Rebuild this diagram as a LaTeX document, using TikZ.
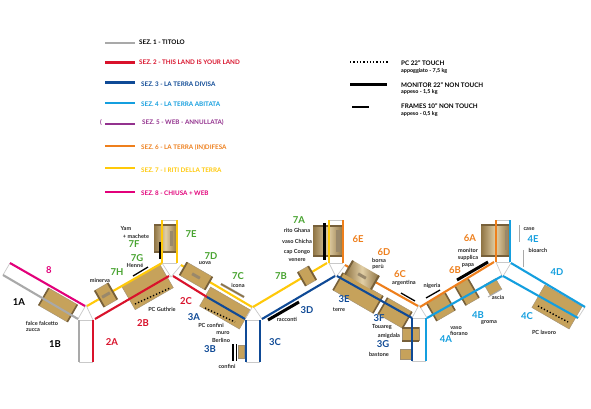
\documentclass[tikz,border=0pt]{standalone}
\usepackage{fontspec}
\setmainfont{Lato}
\definecolor{secgray}{HTML}{A9A9A9}
\definecolor{secred}{HTML}{D9122B}
\definecolor{secblue}{HTML}{0F4A96}
\definecolor{seccyan}{HTML}{149FDF}
\definecolor{secpurple}{HTML}{93328E}
\definecolor{secorange}{HTML}{EE7F1C}
\definecolor{secyellow}{HTML}{FFC909}
\definecolor{secpink}{HTML}{E2007A}
\definecolor{secgreen}{HTML}{47A32F}
\definecolor{woodtan}{HTML}{C6A25B}
\definecolor{woodpale}{HTML}{E2CFA6}
\definecolor{woodband}{HTML}{77603A}
\definecolor{rimgray}{HTML}{C9C9C9}
\begin{document}
\begin{tikzpicture}[x=1pt,y=-1pt,
    sec/.style={line width=2.1pt},
    rim/.style={draw=rimgray,line width=.7pt},
    woodbox/.style={fill=woodtan,draw=woodband!70,line width=.4pt,inner sep=0pt,outer sep=0pt},
    woodshade/.style={left color=woodband!70!woodtan,right color=woodband!70!woodtan,middle color=woodpale,inner sep=0pt,outer sep=0pt},
    band/.style={draw=woodband,line width=2pt},
    sheet/.style={fill=woodband!75,inner sep=0pt},
    lab/.style={font=\fontsize{9.5}{10}\selectfont\bfseries,inner sep=0pt},
    note/.style={font=\fontsize{5.6}{6}\selectfont\bfseries,text=black!85,inner sep=0pt},
    key/.style={font=\fontsize{6.3}{6}\selectfont\bfseries,inner sep=0pt,anchor=west},
    pctouch/.style={line width=1.4pt,dash pattern=on 1.3pt off 2pt},
    monitor/.style={line width=3pt},
    frame/.style={line width=1.3pt}]
    \useasboundingbox (0,0) rectangle (591,408);
    \fill[white] (0,0) rectangle (591,408);
    \foreach \n/\x/\y in {a/10/263,b/3/275,c/85/306,d/79/320,e/79/362,f/93/362,g/93/320,h/95/319,i/78/319,j/87/306,
        k/162/263,l/169/276,m/162/220,o/177/220,p/177/263,q/181/265,r/173/276,s/171/277,t/252/307,u/245/319,
        v/253/307,w/246/320,x/246/362,y/260/362,z/260/320,aa/262/319,ab/327/263,ac/335/276,ad/329/263,ae/329/220,
        af/343/220,ag/343/263,ah/345/265,ai/337/276,aj/336/277,ak/418/306,al/412/318,am/412/361,an/426/361,ao/426/318,
        ap/427/318,aq/420/307,ar/494/262,as/502/276,at/496/262,au/496/220,av/510/220,aw/510/262,ax/511/263,ay/503/276,
        az/585/307,ba/578/318,bb/502.5/277,bc/86/305,bd/253/306,be/419/305,meet/207/297} {
        \coordinate (v\n) at (\x,\y);
    }
    \foreach \n/\x/\y/\w/\h/\a in {falce/58/305/33/20/-30,guthrie/147.5/287/44/27/30,confini/225/308/46/22/-30,
        terre/358/293/46/20/-30,touareg/395/313/28/19/-30,fiorano/441/307/21/20/30,groma/467/292/15/22/30,
        lavoro/557/307/43/26/-30,muro/241/351.5/6/13/0,bastone/406/354/12/10/0,ascia/493/287/13/12/30} {
        \node[woodbox,minimum width=\w,minimum height=\h,rotate=\a] (b\n) at (\x,\y) {};
    }
    \foreach \n/\x/\y/\w/\h/\a in {yam/165.5/238.5/27/23/90,ghana/328/241/30/30/90,supplica/495.5/240.5/31/29/90} {
        \node[woodshade,minimum width=\w,minimum height=\h,rotate=\a] (b\n) at (\x,\y) {};
        \draw[band] (b\n.north west)--(b\n.south west);
        \draw[band] (b\n.north east)--(b\n.south east);
    }
    \foreach \n in {falce,touareg,terre,fiorano,groma} {
        \draw[band,line width=1.6pt] (b\n.north west)--(b\n.south west);
        \draw[band,line width=1.6pt] (b\n.north east)--(b\n.south east);
    }
    \node[woodbox,minimum width=13,minimum height=17,rotate=90] (bamigdala) at (410.5,334) {};
    \draw[band] (bamigdala.north west)--(bamigdala.south west);
    \draw[band] (bamigdala.north east)--(bamigdala.south east);
    \foreach \n/\x/\y/\w/\h in {yamsheet/171.5/238/3/15,ghanasheet/338/241/4/22,supplicasheet/506/240/3/20} {
        \node[sheet,minimum width=\w,minimum height=\h] (b\n) at (\x,\y) {};
    }
    \draw[rim] (va)--(vb);
    \draw[rim] (vi)--(vbc)--(vg);
    \draw[rim] (vd)--(vg);
    \draw[rim] (ve)--(vf);
    \draw[rim] (vk)--(vs)--(vq);
    \draw[rim] (vk)--(vp);
    \draw[rim] (vm)--(vo);
    \draw[rim] (vu)--(vbd)--(vaa);
    \draw[rim] (vw)--(vz);
    \draw[rim] (vx)--(vy);
    \draw[rim] (vad)--(vaj)--(vah);
    \draw[rim] (vad)--(vag);
    \draw[rim] (vae)--(vaf);
    \draw[rim] (val)--(vbe)--(vap);
    \draw[rim] (val)--(vao);
    \draw[rim] (vam)--(van);
    \draw[rim] (vat)--(vbb)--(vax);
    \draw[rim] (vat)--(vaw);
    \draw[rim] (vau)--(vav);
    \draw[rim] (vaz)--(vba);
    \draw[sec,secgray] (vb)--(vi);
    \draw[sec,secgray] (vd)--(ve);
    \draw[sec,secpink] (va)--(vc);
    \draw[sec,secred] (vf)--(vg);
    \draw[sec,secred] (vh)--(vl);
    \draw[sec,secred] (vr)--(vmeet);
    \draw[sec,secblue] (vmeet)--(vu);
    \draw[sec,secblue] (vw)--(vx);
    \draw[sec,secblue] (vz)--(vy);
    \draw[sec,secblue] (vaa)--(vac);
    \draw[sec,secblue] (vai)--(val);
    \draw[sec,secblue] (val)--(vam);
    \draw[sec,seccyan] (vao)--(van);
    \draw[sec,seccyan] (vap)--(vas);
    \draw[sec,seccyan] (vay)--(vba);
    \draw[sec,seccyan] (vax)--(vaz);
    \draw[sec,seccyan] (vav)--(vaw);
    \draw[sec,secyellow] (vj)--(vk);
    \draw[sec,secyellow] (vk)--(vm);
    \draw[sec,secyellow] (vo)--(vp);
    \draw[sec,secyellow] (vq)--(vt);
    \draw[sec,secyellow] (vv)--(vab);
    \draw[sec,secyellow] (vad)--(vae);
    \draw[sec,secorange] (vaf)--(vag);
    \draw[sec,secorange] (vah)--(vak);
    \draw[sec,secorange] (vaq)--(var);
    \draw[sec,secorange] (vat)--(vau);
    \foreach \n/\x/\y/\w/\h/\a in {minerva/106/295/15/19/30,uova/196/276/29/15/-30,racconti/307/276/12/16/30} {
        \node[woodbox,minimum width=\w,minimum height=\h,rotate=\a] (b\n) at (\x,\y) {};
        \draw[band,line width=1.8pt] (b\n.north west)--(b\n.south west);
        \draw[band,line width=1.8pt] (b\n.north east)--(b\n.south east);
    }
    \node[woodshade,minimum width=30,minimum height=16,rotate=-30] (bborsa) at (362,275) {};
    \draw[band] (bborsa.north west)--(bborsa.south west);
    \draw[band] (bborsa.north east)--(bborsa.south east);
    \foreach \n/\x/\y/\a in {minerva/106/295/30,uova/196/276/-30,borsa/362/276/-30} {
        \node[sheet,minimum width=9,minimum height=3,rotate=\a] (s\n) at (\x,\y) {};
    }
    \coordinate (dg1) at (135,304);
    \coordinate (dg2) at (170,288);
    \draw[pctouch] (dg1)--(dg2);
    \coordinate (dc1) at (205,308);
    \coordinate (dc2) at (235,322);
    \draw[pctouch] (dc1)--(dc2);
    \coordinate (dl1) at (538,306);
    \coordinate (dl2) at (568,322);
    \draw[pctouch] (dl1)--(dl2);
    \foreach \n/\xa/\ya/\xb/\yb in {ra/268/320/299/302,mo/457/280/488/262,gh/324/223/324/260} {
        \coordinate (m\n1) at (\xa,\ya);
        \coordinate (m\n2) at (\xb,\yb);
        \draw[monitor] (m\n1)--(m\n2);
    }
    \foreach \n/\xa/\ya/\xb/\yb in {he/133/276/148/267,ym/160/242/160/259,ma/233/344/233/361,mb/236.5/344/236.5/361,ar/401/293/415/301,ni/426/298/440/290} {
        \coordinate (f\n1) at (\xa,\ya);
        \coordinate (f\n2) at (\xb,\yb);
        \draw[frame] (f\n1)--(f\n2);
    }
    \coordinate (gic1) at (221,284);
    \coordinate (gic2) at (244,297);
    \coordinate (gas1) at (488,297);
    \coordinate (gas2) at (502,289);
    \draw[secgray,line width=2.4pt] (gic1)--(gic2);
    \draw[woodband!70!woodtan,line width=1.4pt] (gic1)--(gic2);
    \draw[secgray,line width=1pt] (gas1)--(gas2);
    \coordinate (cs1) at (519,225);
    \coordinate (cs2) at (519,242);
    \coordinate (bi1) at (523,250);
    \coordinate (bi2) at (523,267);
    \draw[secgray,line width=.9pt] (cs1)--(cs2);
    \draw[secgray,line width=.9pt] (bi1)--(bi2);
    \foreach \t/\c/\x/\y in {8/secpink/49/270,1A/black/19/302,1B/black/55/344,2A/secred/112/342,2B/secred/143/323,2C/secred/186/301,
        3A/secblue/194/317,3B/secblue/210/349,3C/secblue/275/342,3D/secblue/307/310,3E/secblue/344/299,3F/secblue/379/318,3G/secblue/383/344,
        4A/seccyan/446/339,4B/seccyan/478/315,4C/seccyan/527/316,4D/seccyan/557/272,4E/seccyan/533/239,
        6A/secorange/470/238,6B/secorange/455/270,6C/secorange/400/274,6D/secorange/384/252,6E/secorange/358/239,
        7A/secgreen/299/220,7B/secgreen/281/276,7C/secgreen/238/276,7D/secgreen/211/256,7E/secgreen/191/234,
        7F/secgreen/134/244,7G/secgreen/137/258,7H/secgreen/117/272} {
        \node[lab,text=\c] (l\t) at (\x,\y) {\t};
    }
    \foreach \t/\x/\y [count=\k] in {falce falcetto/42/323,zucca/33/330,minerva/100/280,Henné/135/265,Yam/126/228,+ machete/136/236,
        PC Guthrie/162/309,uova/205/263.5,icona/238/285,PC confini/211/325,muro/223/333,Berlino/221/340,confini/227/366,racconti/287/319,
        rito Ghana/297/230,vaso Chicha/297/241,cap Congo/297/252,venere/297/260,borsa/379/260,perù/378/267,argentina/404/283,nigeria/432/286,
        terre/339/310,Touareg/382/326.5,amigdala/389/336,bastone/379/354,monitor/468/250,supplica/468/258,papa/468/265,case/529/229,
        bioarch/538/250,vaso/456/328,fiorano/459/333.5,groma/489/323,ascia/498/297,PC lavoro/544/332} {
        \node[note] (n\k) at (\x,\y) {\t};
    }
    \foreach \i/\c/\d/\y/\ty/\tx/\t in {1/secgray/black/43/42.5/139/SEZ. 1 - TITOLO,2/secred/secred/62.5/62/139/SEZ. 2 - THIS LAND IS YOUR LAND,
        3/secblue/secblue/82.5/84/141/SEZ. 3 - LA TERRA DIVISA,4/seccyan/seccyan/103/104/141/SEZ. 4 - LA TERRA ABITATA,
        5/secpurple/secpurple/124/123/142/SEZ. 5 - WEB - ANNULLATA),6/secorange/secorange/146/148/141/SEZ. 6 - LA TERRA (IN)DIFESA,
        7/secyellow/secyellow/168/170/141/SEZ. 7 - I RITI DELLA TERRA,8/secpink/secpink/192/193/141/SEZ. 8 - CHIUSA + WEB} {
        \coordinate (ks\i) at (105,\y);
        \coordinate (ke\i) at (135,\y);
        \draw[sec,\c] (ks\i)--(ke\i);
        \node[key,text=\d] (kt\i) at (\tx,\ty) {\t};
    }
    \node[key,text=secpurple] (kparen) at (100,123) {(};
    \coordinate (kp1) at (350,62);
    \coordinate (kp2) at (389,62);
    \draw[pctouch] (kp1)--(kp2);
    \coordinate (km1) at (350,84.5);
    \coordinate (km2) at (387,84.5);
    \draw[monitor] (km1)--(km2);
    \coordinate (kf1) at (352,107);
    \coordinate (kf2) at (369,107);
    \draw[frame] (kf1)--(kf2);
    \foreach \n/\y/\t in {a/63/{PC 22" TOUCH},b/85/{MONITOR 22" NON TOUCH},c/106/{FRAMES 10" NON TOUCH}} {
        \node[key] (h\n) at (401,\y) {\t};
    }
    \foreach \n/\y/\t in {a/70.5/{appoggiato - 7,5 kg},b/92/{appeso - 1,5 kg},c/114/{appeso - 0,5 kg}} {
        \node[key,font=\fontsize{5.4}{6}\selectfont\bfseries] (w\n) at (401,\y) {\t};
    }
\end{tikzpicture}
\end{document}
